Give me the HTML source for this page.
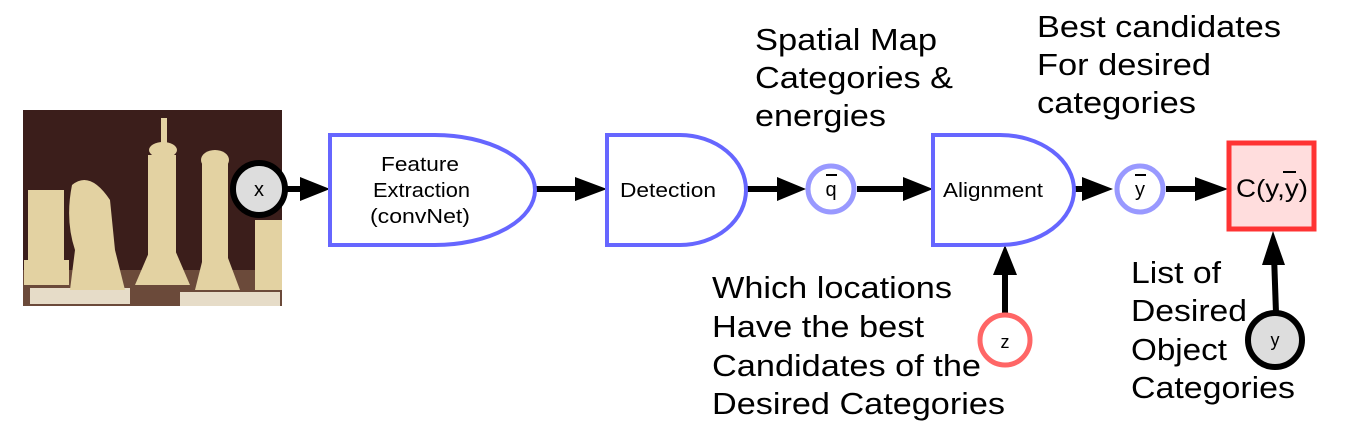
<!DOCTYPE html>
<html><head><meta charset="utf-8"><style>
html,body{margin:0;padding:0;background:#fff;}
svg{display:block;}
text{font-family:"Liberation Sans",sans-serif;fill:#000;}
</style></head><body>
<svg width="1357" height="433" viewBox="0 0 1357 433" xmlns="http://www.w3.org/2000/svg">
<!-- chess image -->
<rect x="23" y="110" width="259" height="196" fill="#3b1e1b"/>
<rect x="23" y="270" width="259" height="36" fill="#6b4a3a"/>
<rect x="30" y="288" width="100" height="16" fill="#e6dcc8"/>
<rect x="180" y="292" width="100" height="14" fill="#e6dcc8"/>
<g fill="#e3d2a2">
<rect x="28" y="190" width="36" height="80"/><rect x="24" y="260" width="45" height="25"/>
<path d="M72 185 Q90 170 110 200 L115 250 L125 290 L70 290 L75 250 Q65 220 72 185Z"/>
<rect x="148" y="155" width="28" height="120"/><rect x="161" y="118" width="6" height="40"/>
<ellipse cx="163" cy="150" rx="14" ry="8"/><path d="M135 285 L150 250 L175 250 L190 285Z"/>
<rect x="202" y="160" width="26" height="110"/><ellipse cx="215" cy="160" rx="14" ry="10"/>
<path d="M195 290 L205 250 L225 250 L240 290Z"/>
<rect x="255" y="220" width="27" height="70"/>
</g>
<!-- arrows -->
<g stroke="#000" stroke-width="6" fill="none">
<line x1="285" y1="189" x2="305" y2="189"/>
<line x1="536" y1="189" x2="580" y2="189"/>
<line x1="747" y1="189" x2="782" y2="189"/>
<line x1="857" y1="189" x2="908" y2="189"/>
<line x1="1075" y1="189" x2="1090" y2="189"/>
<line x1="1166" y1="189" x2="1200" y2="189"/>
<line x1="1005" y1="315" x2="1005" y2="270"/>
<line x1="1276" y1="313" x2="1274" y2="255"/>
</g>
<g fill="#000">
<polygon points="300,177 330,189 300,201"/>
<polygon points="575,177 607,189 575,201"/>
<polygon points="777,177 806,189 777,201"/>
<polygon points="903,177 933,189 903,201"/>
<polygon points="1082,177 1113,189 1082,201"/>
<polygon points="1195,177 1228,189 1195,201"/>
<polygon points="993,275 1005,245 1017,275"/>
<polygon points="1262,265 1273,231 1285,265"/>
</g>
<!-- blocks -->
<g stroke="#6666ff" stroke-width="4" fill="#fff">
<path d="M330 135 H435 A100 55 0 0 1 435 245 H330 Z"/>
<path d="M607 135 H680 A66 55 0 0 1 680 245 H607 Z"/>
<path d="M933 135 H1000 A74 55 0 0 1 1000 245 H933 Z"/>
</g>
<circle cx="259" cy="189" r="26" fill="#dddddd" stroke="#000" stroke-width="6"/>
<circle cx="831" cy="189" r="23" fill="#fff" stroke="#9999ff" stroke-width="5"/>
<circle cx="1140" cy="189" r="23" fill="#fff" stroke="#9999ff" stroke-width="5"/>
<circle cx="1005" cy="340" r="25" fill="#fff" stroke="#ff6666" stroke-width="5"/>
<circle cx="1275" cy="340" r="27" fill="#dddddd" stroke="#000" stroke-width="6"/>
<rect x="1229" y="143" width="85" height="86" fill="#ffdddd" stroke="#ff3333" stroke-width="5"/>
<!-- node text -->
<g font-size="20">
<text x="259" y="196" text-anchor="middle">x</text>
<text x="381" y="171" textLength="78" lengthAdjust="spacingAndGlyphs">Feature</text>
<text x="373" y="197" textLength="97" lengthAdjust="spacingAndGlyphs">Extraction</text>
<text x="370" y="223" textLength="100" lengthAdjust="spacingAndGlyphs">(convNet)</text>
<text x="620" y="197" textLength="96" lengthAdjust="spacingAndGlyphs">Detection</text>
<text x="943" y="197" textLength="100" lengthAdjust="spacingAndGlyphs">Alignment</text>
<text x="831" y="196" text-anchor="middle">q</text>
<text x="1140" y="196" text-anchor="middle">y</text>
<text x="1005" y="348" font-size="18" text-anchor="middle">z</text>
<text x="1275" y="346" font-size="18" text-anchor="middle">y</text>
<text x="1236" y="197" font-size="25" textLength="72" lengthAdjust="spacingAndGlyphs">C(y,y)</text>
</g>
<g stroke="#000" stroke-width="2">
<line x1="826" y1="175" x2="837" y2="175"/>
<line x1="1135" y1="175" x2="1146" y2="175"/>
<line x1="1283" y1="172" x2="1296" y2="172"/>
</g>
<!-- labels -->
<g font-size="31">
<text x="755" y="50" textLength="182" lengthAdjust="spacingAndGlyphs">Spatial Map</text>
<text x="755" y="88" textLength="198" lengthAdjust="spacingAndGlyphs">Categories &amp;</text>
<text x="755" y="126" textLength="131" lengthAdjust="spacingAndGlyphs">energies</text>
<text x="1037" y="37" textLength="244" lengthAdjust="spacingAndGlyphs">Best candidates</text>
<text x="1037" y="75" textLength="174" lengthAdjust="spacingAndGlyphs">For desired</text>
<text x="1037" y="113" textLength="159" lengthAdjust="spacingAndGlyphs">categories</text>
<text x="712" y="298" textLength="240" lengthAdjust="spacingAndGlyphs">Which locations</text>
<text x="712" y="337" textLength="212" lengthAdjust="spacingAndGlyphs">Have the best</text>
<text x="712" y="376" textLength="269" lengthAdjust="spacingAndGlyphs">Candidates of the</text>
<text x="712" y="414" textLength="293" lengthAdjust="spacingAndGlyphs">Desired Categories</text>
<text x="1131" y="283" textLength="90" lengthAdjust="spacingAndGlyphs">List of</text>
<text x="1131" y="321" textLength="116" lengthAdjust="spacingAndGlyphs">Desired</text>
<text x="1131" y="360" textLength="96" lengthAdjust="spacingAndGlyphs">Object</text>
<text x="1131" y="398" textLength="164" lengthAdjust="spacingAndGlyphs">Categories</text>
</g>
</svg>
</body></html>
